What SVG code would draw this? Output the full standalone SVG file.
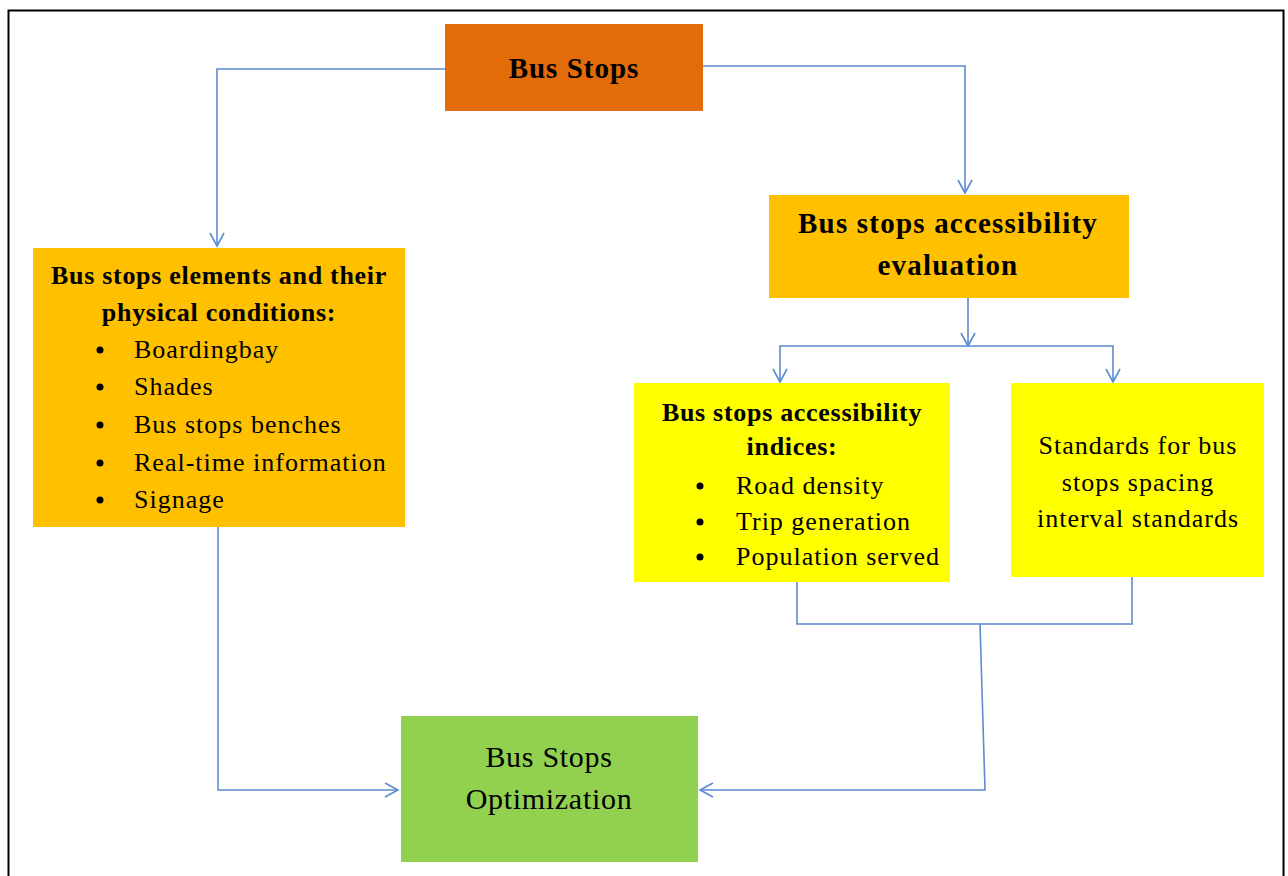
<svg xmlns="http://www.w3.org/2000/svg" width="1288" height="876" viewBox="0 0 1288 876">
<defs>
<marker id="arr" viewBox="0 0 16 16" refX="14" refY="8" markerWidth="16" markerHeight="16" markerUnits="userSpaceOnUse" orient="auto">
<path d="M1,1 L14,8 L1,15" fill="none" stroke="#5B8BD0" stroke-width="1.6"/>
</marker>
<style>
.c{fill:none;stroke:#5B8BD0;stroke-width:1.6}
.t{font-family:"Liberation Serif","Times New Roman",serif;fill:#000}
.b{font-weight:bold}
.m{text-anchor:middle}
.n{font-size:26px;letter-spacing:1px}
.h{font-size:26px;letter-spacing:0.7px}
</style>
</defs>
<rect x="0" y="0" width="1288" height="876" fill="#fff"/>
<rect x="8.5" y="10.5" width="1275" height="880" fill="none" stroke="#000" stroke-width="2"/>
<g id="connectors">
<path class="c" d="M445,69 H217 V246" marker-end="url(#arr)"/>
<path class="c" d="M703,66 H965 V193" marker-end="url(#arr)"/>
<path class="c" d="M968,298 V346" marker-end="url(#arr)"/>
<path class="c" d="M968,346 H780 V382" marker-end="url(#arr)"/>
<path class="c" d="M968,346 H1113 V382" marker-end="url(#arr)"/>
<path class="c" d="M797,582 V624 H1132 V577"/>
<path class="c" d="M980,624 L985,790 H700" marker-end="url(#arr)"/>
<path class="c" d="M218,527 V790 H398" marker-end="url(#arr)"/>
</g>
<g id="bus-stops">
<rect x="445" y="24" width="258" height="87" fill="#E36C0A"/>
<text class="t b m" x="574" y="78" font-size="29" letter-spacing="1">Bus Stops</text>
</g>
<g id="elements">
<rect x="33" y="248" width="372" height="279" fill="#FFC000"/>
<text class="t b m h" x="219" y="284">Bus stops elements and their</text>
<text class="t b m h" x="219" y="321">physical conditions:</text>
<g class="t n">
<circle cx="100" cy="350" r="3.5"/><text x="134" y="358">Boardingbay</text>
<circle cx="100" cy="387" r="3.5"/><text x="134" y="395">Shades</text>
<circle cx="100" cy="425" r="3.5"/><text x="134" y="433">Bus stops benches</text>
<circle cx="100" cy="463" r="3.5"/><text x="134" y="471">Real-time information</text>
<circle cx="100" cy="500" r="3.5"/><text x="134" y="508">Signage</text>
</g>
</g>
<g id="evaluation">
<rect x="769" y="195" width="360" height="103" fill="#FFC000"/>
<text class="t b m" x="948" y="233" font-size="29" letter-spacing="1.2">Bus stops accessibility</text>
<text class="t b m" x="948" y="275" font-size="29" letter-spacing="1.2">evaluation</text>
</g>
<g id="indices">
<rect x="634" y="383" width="316" height="199" fill="#FFFF00"/>
<text class="t b m h" x="792" y="421">Bus stops accessibility</text>
<text class="t b m h" x="792" y="455">indices:</text>
<g class="t n">
<circle cx="700" cy="486" r="3.5"/><text x="736" y="494">Road density</text>
<circle cx="700" cy="522" r="3.5"/><text x="736" y="530">Trip generation</text>
<circle cx="700" cy="557" r="3.5"/><text x="736" y="565">Population served</text>
</g>
</g>
<g id="standards">
<rect x="1011" y="383" width="253" height="194" fill="#FFFF00"/>
<text class="t m n" x="1138" y="454">Standards for bus</text>
<text class="t m n" x="1138" y="491">stops spacing</text>
<text class="t m n" x="1138" y="527">interval standards</text>
</g>
<g id="optimization">
<rect x="401" y="716" width="297" height="146" fill="#92D050"/>
<text class="t m" x="549" y="767" font-size="30" letter-spacing="0.7">Bus Stops</text>
<text class="t m" x="549" y="809" font-size="30" letter-spacing="0.7">Optimization</text>
</g>
</svg>
